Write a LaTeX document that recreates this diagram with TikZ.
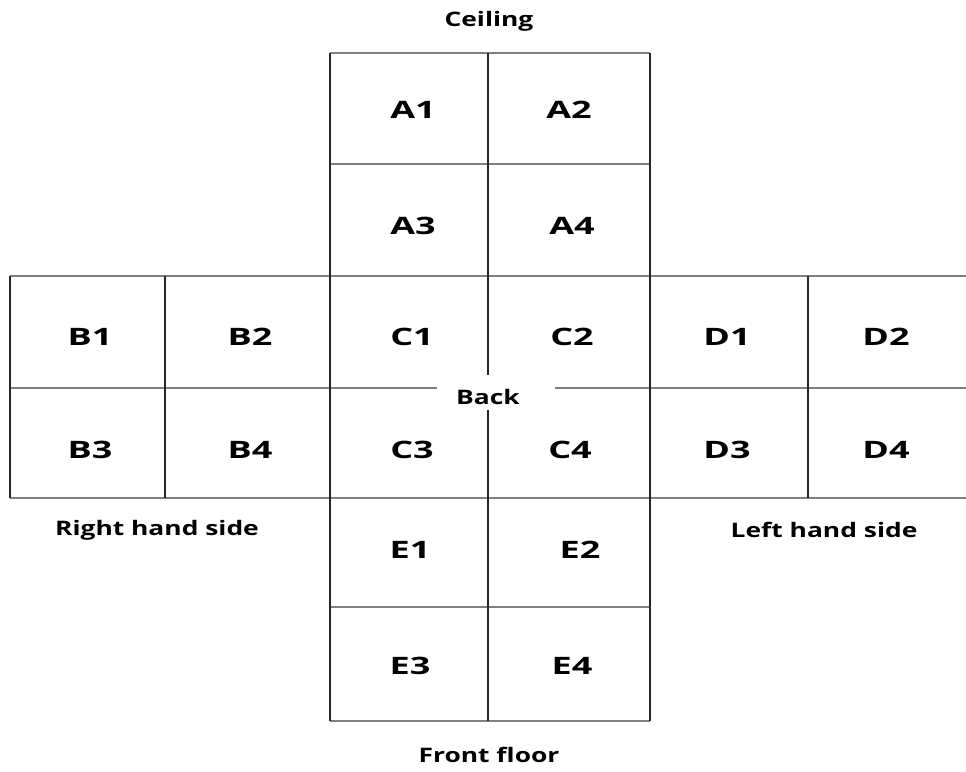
\documentclass[tikz,border=0pt]{standalone}
\usepackage{fontspec}
\setmainfont{Open Sans}[BoldFont={* Bold},BoldFeatures={FakeStretch=1.32}]
\newfontfamily\cellfont{Open Sans Bold}[FakeStretch=1.5]
\begin{document}
\begin{tikzpicture}[x=1pt,y=-1pt,
  hline/.style={draw=black!50,line width=1.4pt},
  vline/.style={draw=black!85,line width=1.1pt},
  cell/.style={font=\cellfont\fontsize{24}{26}\selectfont},
  side/.style={font=\bfseries\fontsize{20}{24}\selectfont}]
\useasboundingbox (0,0) rectangle (966,771);
% horizontal lines
\draw[hline] (330,53) -- (650,53);
\draw[hline] (330,164) -- (650,164);
\draw[hline] (10,276) -- (966,276);
\draw[hline] (10,388) -- (437,388);
\draw[hline] (555,388) -- (966,388);
\draw[hline] (10,498) -- (966,498);
\draw[hline] (330,607) -- (650,607);
\draw[hline] (330,721) -- (650,721);
% vertical lines
\draw[vline] (10,276) -- (10,498);
\draw[vline] (165,276) -- (165,498);
\draw[vline] (330,53) -- (330,721);
\draw[vline] (488,53) -- (488,375);
\draw[vline] (488,410) -- (488,721);
\draw[vline] (650,53) -- (650,721);
\draw[vline] (808,276) -- (808,498);
% cell labels
\node[cell] (A1) at (413,110) {A1};
\node[cell] (A2) at (569,110) {A2};
\node[cell] (A3) at (413,226) {A3};
\node[cell] (A4) at (572,226) {A4};
\node[cell] (B1) at (90,337) {B1};
\node[cell] (B2) at (250,337) {B2};
\node[cell] (C1) at (412,337) {C1};
\node[cell] (C2) at (572,337) {C2};
\node[cell] (D1) at (727,337) {D1};
\node[cell] (D2) at (886,337) {D2};
\node[cell] (B3) at (90,450) {B3};
\node[cell] (B4) at (250,450) {B4};
\node[cell] (C3) at (412,450) {C3};
\node[cell] (C4) at (570,450) {C4};
\node[cell] (D3) at (727,450) {D3};
\node[cell] (D4) at (886,450) {D4};
\node[cell] (E1) at (410,550) {E1};
\node[cell] (E2) at (580,550) {E2};
\node[cell] (E3) at (410,666) {E3};
\node[cell] (E4) at (572,666) {E4};
% side labels
\node[side] (ceiling) at (489,21) {Ceiling};
\node[side] (front) at (489,755) {Front floor};
\node[side] (back) at (488,397) {Back};
\node[side] (rhs) at (157,530) {Right hand side};
\node[side] (lhs) at (824,530) {Left hand side};
\end{tikzpicture}
\end{document}
